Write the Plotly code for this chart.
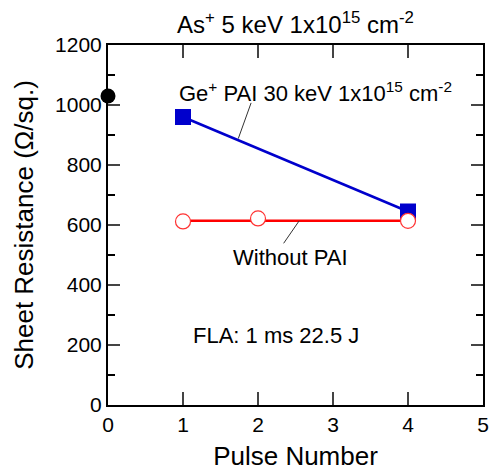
import plotly.graph_objects as go

# Data
ref_x = [0]
ref_y = [1030]
ge_x = [1, 4]
ge_y = [960, 645]
nopai_x = [1, 2, 4]
nopai_y = [612, 622, 614]
nopai_fit_x = [1, 4]
nopai_fit_y = [614, 614]

title_text = "As<sup>+</sup> 5 keV 1x10<sup>15</sup> cm<sup>-2</sup>"
ge_label = "Ge<sup>+</sup> PAI 30 keV 1x10<sup>15</sup> cm<sup>-2</sup>"
nopai_label = "Without PAI"
fla_label = "FLA: 1 ms 22.5 J"

FONT = "Liberation Sans, Arial, sans-serif"

fig = go.Figure()

fig.add_trace(go.Scatter(x=ge_x, y=ge_y, mode="lines+markers",
                         line=dict(color="#0000CC", width=2.5),
                         marker=dict(symbol="square", size=16, color="#0000CC"),
                         cliponaxis=False, showlegend=False))
fig.add_trace(go.Scatter(x=nopai_fit_x, y=nopai_fit_y, mode="lines",
                         line=dict(color="#FF0000", width=2.5),
                         showlegend=False))
fig.add_trace(go.Scatter(x=nopai_x, y=nopai_y, mode="markers",
                         marker=dict(symbol="circle", size=15, color="white",
                                     line=dict(color="#FF3333", width=1.2)),
                         cliponaxis=False, showlegend=False))
fig.add_trace(go.Scatter(x=ref_x, y=ref_y, mode="markers",
                         marker=dict(symbol="circle", size=15, color="black"),
                         cliponaxis=False, showlegend=False))

# leader lines
fig.add_shape(type="line", x0=1.908, y0=1007, x1=1.737, y1=888,
              line=dict(color="#333333", width=1))
fig.add_shape(type="line", x0=2.549, y0=614, x1=2.342, y1=539,
              line=dict(color="#333333", width=1))

fig.add_annotation(x=0.92, y=1043, text=ge_label, showarrow=False,
                   xanchor="left", yanchor="middle",
                   font=dict(size=22, color="black", family=FONT))
fig.add_annotation(x=2.43, y=493, text=nopai_label, showarrow=False,
                   xanchor="center", yanchor="middle",
                   font=dict(size=22, color="black", family=FONT))
fig.add_annotation(x=1.1, y=233, text=fla_label, showarrow=False,
                   xanchor="left", yanchor="middle",
                   font=dict(size=22, color="black", family=FONT))

# page body has an 8px margin: figure origin sits at (8, 8) in the window
fig.update_layout(
    width=489, height=466,
    margin=dict(l=100, r=8, t=37, b=69),
    paper_bgcolor="white", plot_bgcolor="white",
    font=dict(family=FONT, color="black"),
    title=dict(text=title_text, x=0.5, xref="paper", xanchor="center",
               y=1 - 17 / 466, yref="container", yanchor="middle",
               font=dict(size=24, color="black", family=FONT)),
    xaxis=dict(range=[0, 5], dtick=1, tick0=0, ticks="inside", ticklen=13,
               tickwidth=2, showline=True, linecolor="black", linewidth=2,
               mirror="ticks", showgrid=False, zeroline=False,
               tickfont=dict(size=21), title=dict(text="Pulse Number",
               font=dict(size=26), standoff=12)),
    yaxis=dict(range=[0, 1200], dtick=200, tick0=0, ticks="inside", ticklen=12,
               tickwidth=2, showline=True, linecolor="black", linewidth=2,
               mirror="ticks", showgrid=False, zeroline=False,
               tickfont=dict(size=21),
               minor=dict(dtick=100, ticks="inside", ticklen=7, tickwidth=2,
                          tickcolor="black", showgrid=False),
               title=dict(text="Sheet Resistance (Ω/sq.)",
                          font=dict(size=26), standoff=14)),
)

fig.write_html("out.html")
